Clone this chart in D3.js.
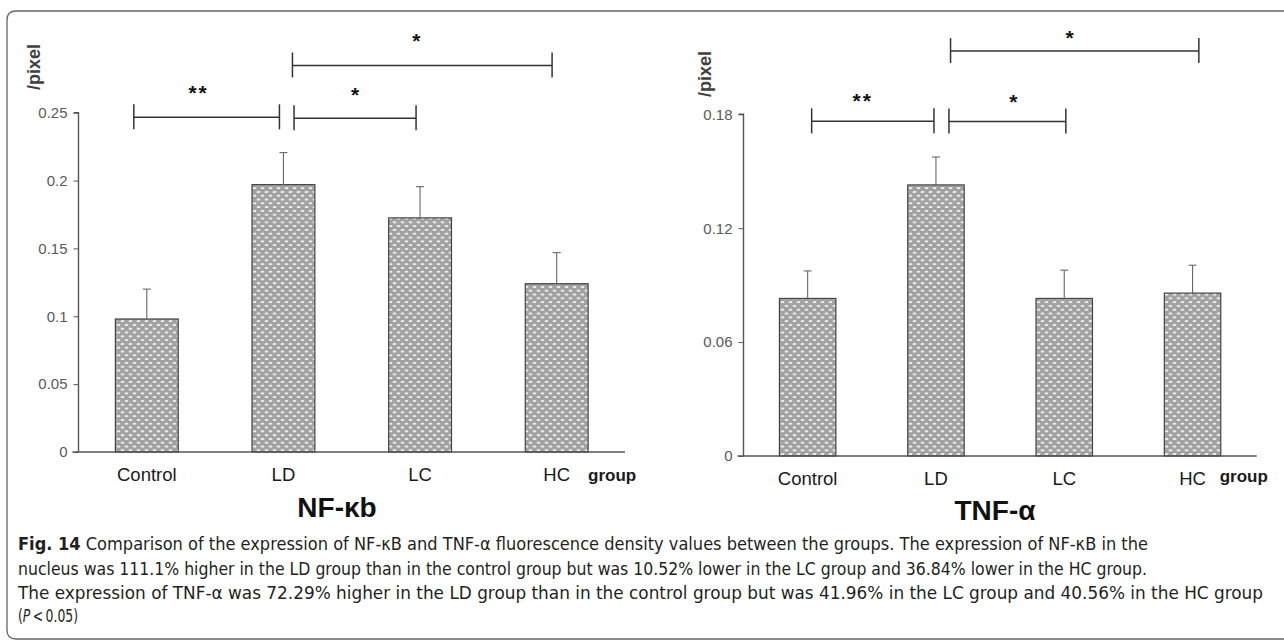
<!DOCTYPE html>
<html>
<head>
<meta charset="utf-8">
<script src="https://cdn.jsdelivr.net/npm/d3@7"></script>
<style>
  body { margin: 0; background: #fff; }
  svg { display: block; }
</style>
</head>
<body>
<div id="fig"></div>
<script>
// data
var groups = ["Control", "LD", "LC", "HC"];

var nfkbMean = [0.098, 0.197, 0.1725, 0.124];
var nfkbErr  = [0.022, 0.0236, 0.023, 0.0229];
var nfkbTicks = [0, 0.05, 0.1, 0.15, 0.2, 0.25];
var nfkbSig = [
  { from: "Control", to: "LD", level: 0.2466, label: "**" },
  { from: "LD", to: "LC", level: 0.2459, label: "*" },
  { from: "LD", to: "HC", level: 0.2848, label: "*" }
];

var tnfMean = [0.083, 0.1428, 0.083, 0.0858];
var tnfErr  = [0.0145, 0.0147, 0.0149, 0.0147];
var tnfTicks = [0, 0.06, 0.12, 0.18];
var tnfSig = [
  { from: "Control", to: "LD", level: 0.1763, label: "**" },
  { from: "LD", to: "LC", level: 0.1762, label: "*" },
  { from: "LD", to: "HC", level: 0.2133, label: "*" }
];

var captionLines = [
  "Comparison of the expression of NF-\u03baB and TNF-\u03b1 fluorescence density values between the groups. The expression of NF-\u03baB in the",
  "nucleus was 111.1% higher in the LD group than in the control group but was 10.52% lower in the LC group and 36.84% lower in the HC group.",
  "The expression of TNF-\u03b1 was 72.29% higher in the LD group than in the control group but was 41.96% in the LC group and 40.56% in the HC group"
];

var width = 1284, height = 643;
var font = "'Liberation Sans', Arial, sans-serif";

var svg = d3.select("#fig").append("svg")
    .attr("width", width)
    .attr("height", height);

// bar texture
var pat = svg.append("defs").append("pattern")
    .attr("id", "dots")
    .attr("width", 8).attr("height", 7.6)
    .attr("patternUnits", "userSpaceOnUse");
pat.append("rect").attr("width", 8).attr("height", 7.6).attr("fill", "#a2a2a2");
pat.append("rect").attr("x", 0.8).attr("y", 1.2).attr("width", 3.4).attr("height", 1.5).attr("fill", "#fff");
pat.append("rect").attr("x", 4.8).attr("y", 5).attr("width", 3.4).attr("height", 1.5).attr("fill", "#fff");
pat.append("rect").attr("x", -3.2).attr("y", 5).attr("width", 3.4).attr("height", 1.5).attr("fill", "#fff");

// frame round the figure
svg.append("path")
    .attr("d", "M1290,11 H16 Q7,11 7,20 V630 Q7,639 16,639 H1290")
    .attr("fill", "none")
    .attr("stroke", "#666")
    .attr("stroke-width", 1.3);

function drawPanel(p, means, errs, ticks, sig) {
  var g = svg.append("g");
  var x = d3.scaleBand().domain(groups).range([p.x0, p.x1]).paddingInner(p.pad).paddingOuter(p.pad / 2);
  var y = d3.scaleLinear().domain([0, ticks[ticks.length - 1]]).range([p.y0, p.yTop]);

  var yAxis = g.append("g")
      .attr("transform", "translate(" + p.x0 + ",0)")
      .call(d3.axisLeft(y).tickValues(ticks).tickSize(5).tickPadding(6)
        .tickFormat(function(d) { return d === 0 ? "0" : String(+d.toFixed(2)); }));
  yAxis.select(".domain").attr("stroke", "#555").attr("stroke-width", 1.4).attr("d", "M-5," + y(ticks[ticks.length-1]) + "H0V" + p.y0);
  yAxis.selectAll(".tick line").attr("stroke", "#555");
  yAxis.selectAll(".tick text")
      .attr("fill", "#595959")
      .style("font", "15px " + font);

  g.selectAll(".bar")
      .data(means)
    .enter().append("rect")
      .attr("x", function(d, i) { return x(groups[i]); })
      .attr("y", function(d) { return y(d); })
      .attr("width", x.bandwidth())
      .attr("height", function(d) { return y(0) - y(d); })
      .attr("fill", "url(#dots)")
      .attr("stroke", "#444")
      .attr("stroke-width", 1.2);

  // error bars (upper only)
  var eb = g.selectAll(".err").data(means).enter().append("g");
  eb.append("line")
      .attr("x1", function(d, i) { return x(groups[i]) + x.bandwidth() / 2; })
      .attr("x2", function(d, i) { return x(groups[i]) + x.bandwidth() / 2; })
      .attr("y1", function(d) { return y(d); })
      .attr("y2", function(d, i) { return y(d + errs[i]); })
      .attr("stroke", "#666").attr("stroke-width", 1.1);
  eb.append("line")
      .attr("x1", function(d, i) { return x(groups[i]) + x.bandwidth() / 2 - 4; })
      .attr("x2", function(d, i) { return x(groups[i]) + x.bandwidth() / 2 + 4; })
      .attr("y1", function(d, i) { return y(d + errs[i]); })
      .attr("y2", function(d, i) { return y(d + errs[i]); })
      .attr("stroke", "#666").attr("stroke-width", 1.1);

  // x axis
  g.append("line")
      .attr("x1", p.x0 - 6).attr("x2", p.x1)
      .attr("y1", p.y0).attr("y2", p.y0)
      .attr("stroke", "#555").attr("stroke-width", 1.3);

  g.selectAll(".cat")
      .data(groups)
    .enter().append("text")
      .attr("x", function(d) { return x(d) + x.bandwidth() / 2; })
      .attr("y", p.catY)
      .attr("text-anchor", "middle")
      .attr("fill", "#1a1a1a")
      .style("font", "18.5px " + font)
      .text(function(d) { return d; });

  g.append("text")
      .attr("x", p.groupX).attr("y", p.groupY)
      .attr("fill", "#1a1a1a")
      .style("font", "bold 17px " + font)
      .text("group");

  g.append("text")
      .attr("transform", "translate(" + p.labX + "," + p.labY + ") rotate(-90)")
      .attr("text-anchor", "middle")
      .attr("fill", "#404040")
      .style("font", "bold 18px " + font)
      .text("/pixel");

  g.append("text")
      .attr("x", p.titleX).attr("y", p.titleY)
      .attr("text-anchor", "middle")
      .attr("fill", "#111")
      .style("font", "bold 28px " + font)
      .text(p.title);

  // significance brackets
  sig.forEach(function(s, i) {
    var off = p.sigOff[i];
    var xa = x(s.from) + x.bandwidth() / 2 + off[0];
    var xb = x(s.to) + x.bandwidth() / 2 + off[1];
    var yy = y(s.level);
    var bg = g.append("g").attr("stroke", "#333").attr("stroke-width", 1.5);
    bg.append("line").attr("x1", xa).attr("x2", xb).attr("y1", yy).attr("y2", yy);
    bg.append("line").attr("x1", xa).attr("x2", xa).attr("y1", yy - 13).attr("y2", yy + 12);
    bg.append("line").attr("x1", xb).attr("x2", xb).attr("y1", yy - 13).attr("y2", yy + 12);
    g.append("text")
        .attr("x", (xa + xb) / 2 + off[2])
        .attr("y", yy - off[3])
        .attr("text-anchor", "middle")
        .attr("fill", "#111")
        .style("font", "bold 21px " + font)
        .attr("letter-spacing", s.label.length > 1 ? 2 : 0)
        .text(s.label);
  });
}

drawPanel({
  x0: 78.5, x1: 625, y0: 452, yTop: 112.7, pad: 0.54,
  catY: 481, groupX: 588, groupY: 481,
  labX: 40, labY: 67,
  title: "NF-\u03bab", titleX: 337, titleY: 517,
  sigOff: [[-13, -4, -8, 17], [10.6, -4, 0, 16], [9, -4.6, -6, 17]]
}, nfkbMean, nfkbErr, nfkbTicks, nfkbSig);

drawPanel({
  x0: 743.5, x1: 1256.7, y0: 456, yTop: 114.3, pad: 0.56,
  catY: 485, groupX: 1219.7, groupY: 482,
  labX: 711, labY: 74,
  title: "TNF-\u03b1", titleX: 995, titleY: 520,
  sigOff: [[4, -2, -10, 13], [13, 1.6, 6, 13], [14.6, 6.3, -5, 6]]
}, tnfMean, tnfErr, tnfTicks, tnfSig);

// caption
var capFont = "'Liberation Sans Narrow', 'DejaVu Sans', sans-serif";
var capY = [550, 574.5, 598.5];
var capEnd = [1148, 1147, 1263];
captionLines.forEach(function(line, i) {
  var t = svg.append("text")
      .attr("x", 18).attr("y", capY[i])
      .attr("fill", "#231f20")
      .style("font-family", capFont)
      .style("font-size", "17px")
      .style("font-stretch", "condensed")
      .attr("textLength", capEnd[i] - 18)
      .attr("lengthAdjust", "spacingAndGlyphs");
  if (i === 0) {
    t.append("tspan").style("font-weight", "bold").text("Fig. 14");
    t.append("tspan").text("  " + line);
  } else {
    t.text(line);
  }
});
var pl = svg.append("text")
    .attr("x", 18).attr("y", 622)
    .attr("fill", "#231f20")
    .style("font-family", capFont)
    .style("font-size", "17px")
    .style("font-stretch", "condensed")
    .attr("textLength", 60)
    .attr("lengthAdjust", "spacingAndGlyphs");
pl.append("tspan").text("(");
pl.append("tspan").style("font-style", "italic").text("P");
pl.append("tspan").text("\u2009<\u20090.05)");
</script>
</body>
</html>
